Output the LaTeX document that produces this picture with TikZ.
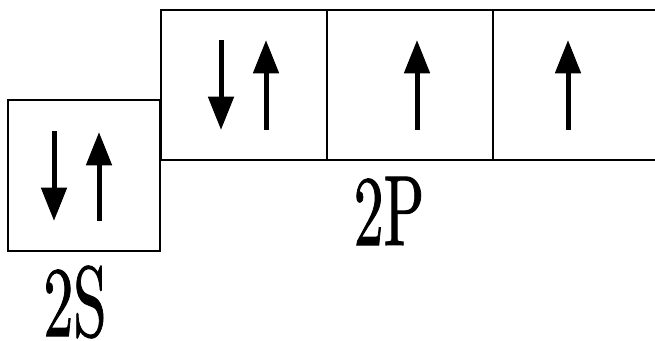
\documentclass[tikz,border=0pt]{standalone}
\usepackage{fontspec}
\newfontfamily\shellfont{lmroman10-regular.otf}[FakeBold=1.2]
\usetikzlibrary{arrows.meta}
\tikzset{
  orbital/.style={draw, line width=0.06cm},
  spin/.style={line width=0.15cm, -{Triangle[width=0.75cm, length=1.0cm]}},
  shell/.style={font=\shellfont\fontsize{85}{85}\selectfont, inner sep=0pt, anchor=base,
    xscale=0.6, transform shape}
}
\begin{document}
\begin{tikzpicture}[x=0.03cm, y=-0.03cm]
  \clip (0,0) rectangle (655,340);
  % 2s orbital
  \draw[orbital] (8,100) rectangle (160,251);
  \draw[spin] (54,131) -- (54,221);
  \draw[spin] (99,221) -- (99,132);
  % 2p orbitals
  \draw[orbital] (161,10) rectangle (327,160);
  \draw[orbital] (327,10) rectangle (493,160);
  \draw[orbital] (493,10) rectangle (665,160);
  \draw[spin] (221,40) -- (221,130);
  \draw[spin] (266,130) -- (266,40);
  \draw[spin] (417,130) -- (417,40);
  \draw[spin] (568,130) -- (568,40);
  % labels
  \node[shell] (s) at (75,336) {2S};
  \node[shell] (p) at (389,245) {2P};
\end{tikzpicture}
\end{document}
